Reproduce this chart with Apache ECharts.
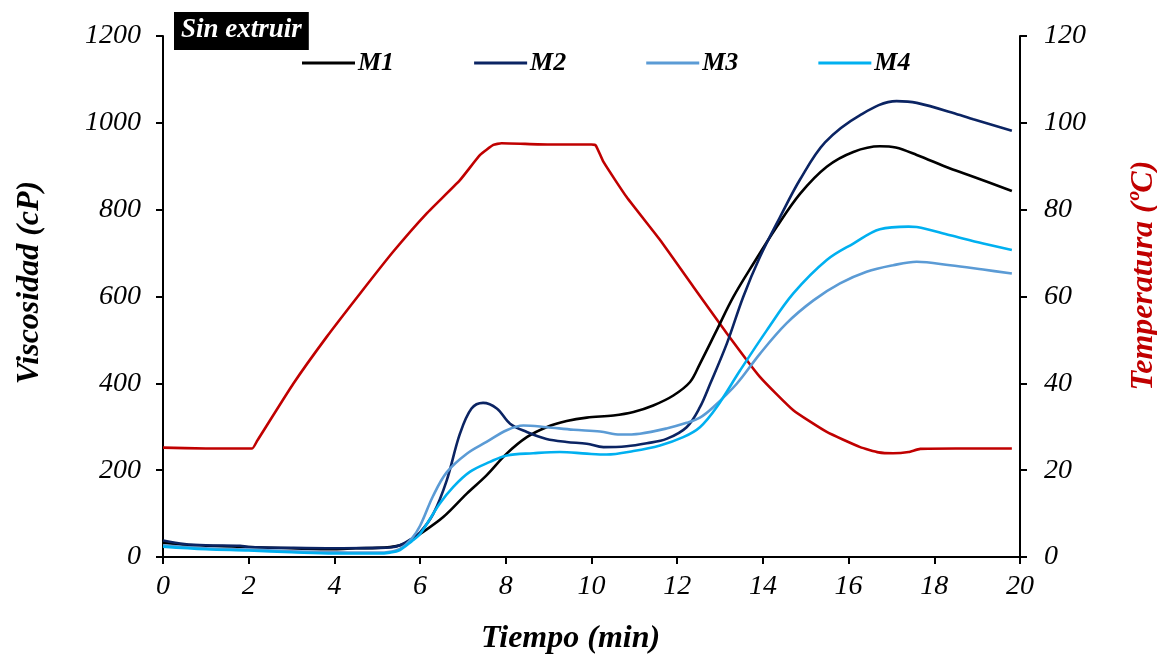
<!DOCTYPE html>
<html>
<head>
<meta charset="utf-8">
<script src="https://cdn.jsdelivr.net/npm/echarts@6/dist/echarts.min.js"></script>
<style>
  html, body { margin: 0; padding: 0; background: #fff; }
  #chart { width: 1157px; height: 657px; }
</style>
</head>
<body>
<div id="chart"></div>
<script>
// Pasting profile (RVA): viscosity of four samples and the temperature programme
const seriesNames = ['M1', 'M2', 'M3', 'M4'];

// [time (min), viscosity (cP)]
const m1 = [[0,33],[0.5,28],[1,26],[2,23],[3,20],[4,18],[4.5,20],[5,21],[5.3,23],[5.53,27],[5.8,40],[6.0,53],[6.54,92],[7.09,146],[7.55,188],[8.02,238],[8.49,276],[8.95,299],[9.42,313],[9.89,321],[10.51,326],[10.98,334],[11.44,349],[11.91,372],[12.3,403],[12.53,445],[12.92,522],[13.31,599],[13.78,676],[14.32,760],[14.87,837],[15.49,899],[16.11,933],[16.73,946],[17.1,943],[17.59,926],[18.37,895],[18.91,876],[19.81,843]];
const m2 = [[0,38],[0.5,30],[1,27],[1.8,26],[2,23],[3,21],[4,20],[5,21],[5.3,22],[5.53,27],[5.8,42],[6.0,57],[6.31,100],[6.62,176],[6.93,284],[7.2,342],[7.47,355],[7.79,342],[8.1,307],[8.49,288],[8.95,272],[9.42,265],[9.89,261],[10.28,253],[10.82,255],[11.29,262],[11.75,272],[12.22,299],[12.53,345],[12.77,399],[13.16,492],[13.54,599],[13.93,691],[14.4,783],[14.87,870],[15.45,955],[16.27,1018],[17.12,1050],[17.59,1046],[18.6,1018],[18.91,1008],[19.81,982]];
const m3 = [[0,27],[1,20],[2,17],[3,13],[4,11],[5,10],[5.3,12],[5.53,19],[5.8,42],[6.0,72],[6.3,140],[6.62,195],[7.09,238],[7.55,265],[8.02,292],[8.41,303],[8.95,299],[9.58,293],[10.2,289],[10.67,282],[11.13,284],[11.75,296],[12.22,309],[12.53,321],[12.84,345],[13.39,399],[13.93,468],[14.55,538],[15.18,591],[15.8,630],[16.42,657],[17.04,672],[17.59,680],[18.37,672],[19.14,662],[19.81,653]];
const m4 = [[0,24],[1,18],[2,15],[3,11],[4,8],[5,8],[5.3,10],[5.53,16],[5.8,36],[6.0,53],[6.46,123],[6.77,161],[7.16,196],[7.63,219],[8.02,234],[8.64,239],[9.26,242],[9.89,238],[10.35,236],[10.98,244],[11.6,257],[12.14,276],[12.53,299],[12.92,345],[13.47,430],[14.09,522],[14.71,607],[15.49,684],[16.11,722],[16.73,755],[17.4,761],[17.59,760],[18.37,741],[19.14,722],[19.81,707]];

// [time (min), temperature (ºC)]
const temperature = [[0,25.2],[1,25],[2.08,25],[2.2,26.8],[3.04,39.9],[3.82,50.7],[4.6,60.7],[5.37,70.3],[6.15,79.1],[6.93,86.8],[7.4,92.6],[7.71,94.9],[7.9,95.3],[9,95],[10.0,95],[10.1,94.8],[10.28,91],[10.82,82.9],[11.6,73],[12.38,62.2],[13.16,51.5],[13.93,41.5],[14.71,33.8],[15.49,28.8],[16.27,25.3],[16.7,24.1],[17.04,23.9],[17.4,24.2],[17.67,24.9],[18.5,25],[19.81,25]];

const xTicks = { min: 0, max: 20, interval: 2 };
const yLeftTicks = { min: 0, max: 1200, interval: 200 };
const yRightTicks = { min: 0, max: 120, interval: 20 };

const colors = ['#000000', '#0b2463', '#5b9bd5', '#00b0f0'];
const tempColor = '#c00000';
const serif = '"Liberation Serif", "Times New Roman", serif';

const axisLine = { show: true, lineStyle: { color: '#000', width: 2 } };
const axisTick = { show: true, inside: false, length: 7, lineStyle: { color: '#000', width: 2 } };
const tickLabel = { fontFamily: serif, fontStyle: 'italic', fontSize: 28, color: '#000', formatter: v => String(v) };
const axisTitle = { fontFamily: serif, fontStyle: 'italic', fontWeight: 'bold', fontSize: 32, color: '#000' };

const viscData = [m1, m2, m3, m4];

const chart = echarts.init(document.getElementById('chart'), null, { renderer: 'canvas' });
chart.setOption({
  animation: false,
  backgroundColor: '#fff',
  title: {
    text: 'Sin extruir',
    left: 174,
    top: 12,
    backgroundColor: '#000',
    padding: [5, 7, 6, 7],
    textStyle: { fontFamily: serif, fontStyle: 'italic', fontWeight: 'bold', fontSize: 27, color: '#fff' }
  },
  legend: {
    data: seriesNames,
    left: 297,
    top: 45,
    icon: 'rect',
    itemWidth: 53,
    itemHeight: 3,
    itemGap: 80,
    textStyle: { fontFamily: serif, fontStyle: 'italic', fontWeight: 'bold', fontSize: 26, color: '#000', padding: [2, 0, 0, -2] }
  },
  grid: { left: 163, right: 137, top: 36, bottom: 100, containLabel: false, outerBoundsMode: 'none' },
  xAxis: {
    type: 'value',
    min: xTicks.min, max: xTicks.max, interval: xTicks.interval,
    name: 'Tiempo (min)',
    nameLocation: 'middle',
    nameGap: 66,
    nameTextStyle: Object.assign({}, axisTitle, { padding: [0, 42, 0, 0] }),
    axisLine, axisTick,
    axisLabel: Object.assign({ margin: 16 }, tickLabel),
    splitLine: { show: false }
  },
  yAxis: [
    {
      type: 'value',
      min: yLeftTicks.min, max: yLeftTicks.max, interval: yLeftTicks.interval,
      name: 'Viscosidad (cP)',
      nameLocation: 'middle',
      nameRotate: 90,
      nameGap: 117,
      nameTextStyle: Object.assign({}, axisTitle, { padding: [0, 0, 0, 28] }),
      axisLine, axisTick,
      axisLabel: Object.assign({ margin: 22 }, tickLabel),
      splitLine: { show: false }
    },
    {
      type: 'value',
      position: 'right',
      min: yRightTicks.min, max: yRightTicks.max, interval: yRightTicks.interval,
      name: 'Temperatura (ºC)',
      nameLocation: 'middle',
      nameRotate: 90,
      nameGap: 108,
      nameTextStyle: Object.assign({}, axisTitle, { color: tempColor, padding: [0, 0, 0, 42] }),
      axisLine, axisTick,
      axisLabel: Object.assign({ margin: 24 }, tickLabel),
      splitLine: { show: false }
    }
  ],
  series: [
    ...seriesNames.map((name, i) => ({
      name,
      type: 'line',
      yAxisIndex: 0,
      data: viscData[i],
      smooth: 0.35,
      symbol: 'none',
      lineStyle: { color: colors[i], width: 2.6 },
      itemStyle: { color: colors[i] },
      z: 3 + i
    })),
    {
      name: 'Temperatura',
      type: 'line',
      yAxisIndex: 1,
      data: temperature,
      smooth: 0.15,
      symbol: 'none',
      lineStyle: { color: tempColor, width: 2.6 },
      itemStyle: { color: tempColor },
      z: 2
    }
  ]
});
</script>
</body>
</html>
